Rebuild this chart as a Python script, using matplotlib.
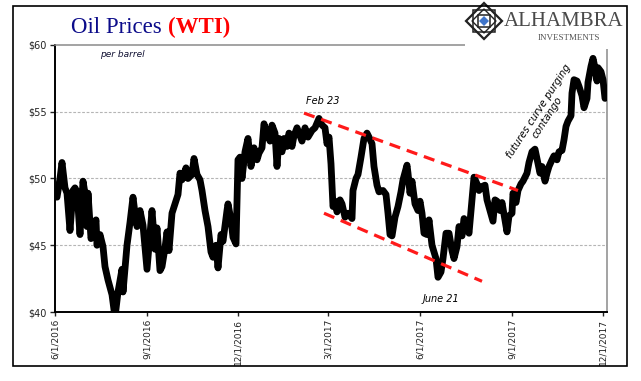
import datetime as dt
import matplotlib
matplotlib.use('Agg')
import matplotlib.pyplot as plt
from matplotlib.patches import Rectangle, Polygon

# WTI price, days counted from 6/1/2016
start = dt.date(2016, 6, 1)
day_offset = [
    0, 2, 5, 7, 10, 12, 15, 18, 20, 22, 25, 28, 30, 32, 33, 36, 38, 41, 42, 45,
    48, 50, 53, 57, 60, 63, 67, 68, 72, 75, 78, 80, 82, 85, 88, 92, 94, 97, 100, 102,
    105, 107, 110, 112, 114, 117, 120, 123, 125, 127, 131, 133, 137, 139, 142, 145, 147, 150, 153, 156,
    158, 161, 163, 166, 168, 172, 173, 176, 178, 181, 183, 185, 187, 190, 193, 196, 199, 202, 204, 207,
    209, 212, 215, 217, 220, 222, 224, 227, 229, 232, 234, 237, 239, 242, 244, 247, 250, 253, 257, 260,
    264, 267, 270, 272, 274, 276, 278, 280, 282, 285, 287, 290, 293, 297, 298, 301, 303, 306, 309, 312,
    314, 317, 319, 322, 324, 328, 331, 333, 335, 337, 340, 343, 346, 348, 352, 353, 355, 357, 360, 363,
    365, 367, 369, 372, 374, 377, 379, 381, 383, 386, 388, 391, 394, 397, 399, 402, 404, 407, 409, 412,
    414, 417, 419, 422, 424, 427, 430, 432, 435, 438, 440, 442, 445, 447, 449, 452, 454, 457, 458, 461,
    463, 466, 468, 472, 474, 477, 480, 483, 485, 487, 490, 492, 494, 497, 499, 502, 504, 507, 509, 511,
    513, 516, 517, 519, 522, 524, 527, 529, 532, 533, 536, 538, 540, 542, 543, 546, 548, 550,
]
price = [
    48.7, 48.6, 50.0, 51.2, 49.3, 48.9, 46.1, 49.1, 49.3, 49.0, 45.8, 49.8, 48.9, 46.4, 48.9, 45.5, 46.0, 46.9, 45.0, 45.8,
    44.9, 43.4, 42.4, 41.3, 39.6, 41.5, 43.2, 41.5, 45.0, 46.7, 48.6, 47.4, 46.4, 47.6, 46.5, 43.2, 45.0, 47.6, 44.7, 46.3,
    43.1, 43.4, 44.8, 46.0, 44.6, 47.4, 48.1, 48.8, 50.4, 49.9, 50.8, 50.0, 50.3, 51.5, 50.3, 49.9, 49.1, 47.6, 46.4, 44.5,
    44.1, 45.0, 43.3, 45.8, 45.3, 47.6, 48.1, 46.9, 45.6, 45.1, 51.4, 51.6, 50.0, 52.0, 53.0, 50.9, 52.3, 51.4, 51.9, 52.3,
    54.1, 53.4, 52.8, 54.0, 53.4, 50.9, 53.0, 52.0, 53.0, 52.4, 53.4, 52.4, 53.2, 53.8, 53.4, 52.8, 53.8, 53.1, 53.6, 53.8,
    54.5, 54.0, 53.8, 52.6, 53.1, 51.1, 47.9, 48.3, 47.5, 48.4, 48.1, 47.1, 47.4, 47.0, 49.1, 50.0, 50.3, 51.6, 53.0, 53.4,
    53.1, 52.6, 50.9, 49.5, 49.0, 49.1, 48.8, 47.4, 45.8, 45.7, 47.1, 47.9, 49.0, 49.9, 51.0, 50.4, 48.9, 49.8, 48.1, 47.6,
    48.3, 47.4, 45.9, 45.8, 46.9, 45.0, 44.5, 44.0, 42.6, 43.0, 44.0, 45.9, 45.9, 44.6, 44.0, 44.9, 46.4, 45.7, 47.0, 46.4,
    45.9, 48.4, 50.1, 49.6, 49.1, 49.4, 49.5, 48.4, 47.6, 46.8, 48.4, 48.3, 47.6, 48.2, 47.3, 46.0, 47.2, 47.4, 48.9, 48.2,
    49.1, 49.6, 49.8, 50.4, 51.2, 52.0, 52.2, 51.1, 50.4, 50.9, 49.8, 50.4, 50.9, 51.4, 51.7, 51.4, 52.0, 52.1, 52.9, 53.9,
    54.3, 54.7, 56.4, 57.4, 57.3, 56.9, 56.2, 55.3, 56.0, 57.2, 58.4, 59.0, 58.3, 57.3, 58.3, 58.0, 57.4, 56.0,
]
dates = [start + dt.timedelta(days=d) for d in day_offset]

x_ticks = [dt.date(2016, 6, 1), dt.date(2016, 9, 1), dt.date(2016, 12, 1), dt.date(2017, 3, 1),
           dt.date(2017, 6, 1), dt.date(2017, 9, 1), dt.date(2017, 12, 1)]
y_ticks = [40, 45, 50, 55, 60]
y_labels = ['$40', '$45', '$50', '$55', '$60']

# channel lines drawn on the chart
upper_channel_dates = [dt.date(2017, 2, 5), dt.date(2017, 9, 7)]
upper_channel_prices = [54.9, 49.1]
lower_channel_dates = [dt.date(2017, 2, 25), dt.date(2017, 8, 2)]
lower_channel_prices = [47.4, 42.3]

W, H = 641, 381
fig = plt.figure(figsize=(W / 100, H / 100), dpi=100)
ax = fig.add_axes([55 / W, 1 - 312 / H, (607 - 55) / W, (312 - 45) / H])


def px(x, y):
    return x / W, 1 - y / H


ax.plot(dates, price, color='black', lw=4.9, solid_joinstyle='round', solid_capstyle='round', zorder=3)
ax.plot(upper_channel_dates, upper_channel_prices, color='#ff1a1a', lw=2.3, dashes=(3.5, 2.2), zorder=4)
ax.plot(lower_channel_dates, lower_channel_prices, color='#ff1a1a', lw=2.3, dashes=(3.5, 2.2), zorder=4)

ax.set_xlim(start, dt.date(2017, 12, 5))
ax.set_ylim(40, 60)
ax.set_yticks(y_ticks)
ax.set_yticklabels(y_labels)
ax.set_xticks(x_ticks)
ax.set_xticklabels([f'{d.month}/{d.day}/{d.year}' for d in x_ticks], rotation=90)
ax.tick_params(axis='y', direction='out', length=3.6, width=1, pad=2.5, labelsize=7, colors='#222222')
ax.tick_params(axis='x', direction='out', length=3, width=1, pad=2, labelsize=6.5, colors='#222222')

for y in [45, 50, 55]:
    ax.axhline(y, color='#b5b5b5', lw=0.8, dashes=(2.5, 1.5), zorder=1)

ax.spines['left'].set_linewidth(1.4)
ax.spines['bottom'].set_linewidth(1.4)
ax.spines['top'].set_color('#8a8a8a')
ax.spines['top'].set_linewidth(1.1)
ax.spines['right'].set_color('#8a8a8a')
ax.spines['right'].set_linewidth(1.1)

ax.text(dt.date(2016, 7, 16), 59.3, 'per barrel', style='italic', fontsize=6.5, color='#111133', va='center')
ax.text(dt.date(2017, 2, 7), 55.8, 'Feb 23', style='italic', fontsize=7, va='center')
ax.text(dt.date(2017, 6, 4), 40.95, 'June 21', style='italic', fontsize=7, va='center')
ax.text(dt.date(2017, 10, 2), 54.8, 'futures curve purging\ncontango', style='italic', fontsize=7.3,
        rotation=57, ha='center', va='center', rotation_mode='anchor', multialignment='center',
        linespacing=1.05)

# title
tx, ty = px(71, 33)
fig.text(tx, ty, 'Oil Prices', family='Liberation Serif', fontsize=16.5, color='#0c0c8a', va='baseline')
tx, ty = px(168, 33)
fig.text(tx, ty, '(WTI)', family='Liberation Serif', fontsize=16.5, color='#ff0000',
         weight='bold', va='baseline')

# logo block
x0, y0 = px(465, 49)
x1, y1 = px(626, 7)
fig.patches.append(Rectangle((x0, y0), x1 - x0, y1 - y0, transform=fig.transFigure,
                             facecolor='white', edgecolor='none', zorder=5))
cx, cy, r = 484, 21, 18
outer = [px(cx - r, cy), px(cx, cy - r), px(cx + r, cy), px(cx, cy + r)]
fig.patches.append(Polygon(outer, closed=True, transform=fig.transFigure, facecolor='white',
                           edgecolor='#222222', lw=1.6, zorder=6))
for k in [11, 6]:
    sq = [px(cx - k, cy - k), px(cx + k, cy - k), px(cx + k, cy + k), px(cx - k, cy + k)]
    fig.patches.append(Polygon(sq, closed=True, transform=fig.transFigure, facecolor='none',
                               edgecolor='#222222', lw=1.1, zorder=6))
inner = [px(cx - 12, cy), px(cx, cy - 12), px(cx + 12, cy), px(cx, cy + 12)]
fig.patches.append(Polygon(inner, closed=True, transform=fig.transFigure, facecolor='none',
                           edgecolor='#222222', lw=1.0, zorder=6))
core = [px(cx - 5, cy), px(cx, cy - 5), px(cx + 5, cy), px(cx, cy + 5)]
fig.patches.append(Polygon(core, closed=True, transform=fig.transFigure, facecolor='#3f74c9',
                           edgecolor='none', zorder=7))
tx, ty = px(504, 26)
fig.text(tx, ty, 'ALHAMBRA', family='Liberation Serif', fontsize=15, color='#4a4a4a',
         va='baseline', zorder=8)
tx, ty = px(569, 40)
fig.text(tx, ty, 'INVESTMENTS', family='Liberation Serif', fontsize=6.5, color='#555555',
         ha='center', va='baseline', zorder=8)

# outer frame
bx0, by0 = px(13, 366)
bx1, by1 = px(627, 6)
fig.patches.append(Rectangle((bx0, by0), bx1 - bx0, by1 - by0, transform=fig.transFigure,
                             facecolor='none', edgecolor='black', lw=1.2, zorder=9))

fig.savefig('out.png', dpi=100)
